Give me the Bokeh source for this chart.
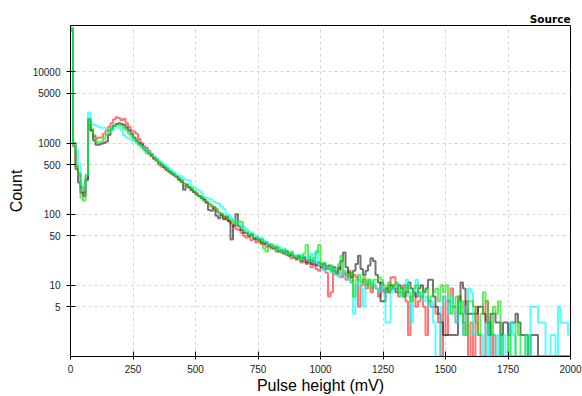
import numpy as np
from bokeh.plotting import figure
from bokeh.models import FixedTicker, NumeralTickFormatter, Title, Range1d
from bokeh.embed import file_html
from bokeh.resources import INLINE

# ---------------- data ----------------
bin_width = 10          # mV per bin
x_ticks = [0, 250, 500, 750, 1000, 1250, 1500, 1750, 2000]
y_ticks = [5, 10, 50, 100, 500, 1000, 5000, 10000]
x_label = "Pulse height (mV)"
y_label = "Count"
legend_title = "Source"

red_counts = [
    38000, 900, 480, 380, 240, 200, 320, 2100, 1500, 1250,
    1150, 1200, 1200, 1350, 1500, 1700, 1900, 2150, 2300, 2250,
    2100, 2200, 1900, 1700, 1500, 1450, 1350, 1150, 1000, 900,
    850, 780, 650, 600, 560, 500, 470, 450, 440, 400,
    390, 370, 335, 320, 300, 270, 265, 240, 228, 205,
    198, 180, 176, 158, 148, 142, 128, 122, 112, 104,
    98, 92, 84, 80, 74, 68, 62, 60, 55, 50,
    47, 48, 43, 45, 40, 42, 38, 41, 35, 36,
    33, 35, 30, 31, 29, 32, 27, 28, 24, 26,
    23, 25, 21, 24, 20, 22, 18, 20, 17, 16,
    19, 17, 15, 7, 8, 16, 14, 18, 13, 15,
    12, 16, 11, 14, 13, 5, 10, 12, 9, 11,
    8, 10, 9, 7, 11, 8, 9, 10, 13, 13,
    9, 7, 8, 10, 6, 2, 7, 8, 5, 6,
    7, 5, 2, 6, 5, 5, 4, 3, 0, 7,
    2, 6, 9, 5, 3, 7, 4, 2, 6, 0,
    3, 0, 5, 2, 0, 0, 6, 3, 0, 2,
    0, 0, 2, 0, 0, 0, 0, 0, 0, 0,
    0, 0, 0, 0, 0, 0, 0, 0, 0, 0,
    0, 0, 0, 0, 0, 0, 0, 0, 0, 0,
]

black_counts = [
    40000, 1000, 430, 280, 200, 180, 300, 2200, 1500, 1100,
    950, 950, 980, 1000, 1050, 1300, 1550, 1750, 1850, 1900,
    1850, 1800, 1650, 1500, 1350, 1200, 1100, 1000, 950, 850,
    780, 720, 680, 620, 590, 540, 500, 460, 420, 400,
    370, 355, 340, 305, 285, 220, 255, 240, 218, 205,
    190, 180, 168, 162, 145, 115, 112, 125, 95, 88,
    98, 85, 92, 80, 44, 70, 100, 68, 60, 55,
    54, 50, 52, 46, 44, 45, 40, 38, 40, 36,
    35, 33, 34, 30, 31, 28, 30, 26, 27, 25,
    24, 26, 22, 25, 21, 23, 20, 22, 19, 21,
    18, 20, 17, 19, 16, 18, 15, 17, 22, 29,
    18, 15, 13, 16, 20, 26, 17, 14, 16, 19,
    24, 22, 14, 11, 6, 6, 9, 8, 10, 9,
    8, 10, 9, 7, 8, 11, 9, 8, 7, 9,
    10, 8, 9, 12, 12, 7, 5, 4, 3, 2,
    2, 2, 2, 2, 2, 6, 11, 9, 4, 4,
    4, 4, 4, 5, 5, 4, 3, 2, 4, 4,
    3, 3, 2, 3, 3, 2, 3, 3, 4, 3,
    2, 2, 2, 1, 2, 2, 2, 0, 0, 0,
    0, 0, 0, 0, 0, 0, 0, 0, 0, 0,
]

green_counts = [
    42000, 1000, 470, 360, 170, 155, 350, 2100, 1600, 1300,
    1050, 1000, 1050, 1150, 1300, 1500, 1650, 1750, 1800, 1800,
    1750, 1600, 1500, 1350, 1250, 1150, 1050, 950, 870, 800,
    720, 700, 700, 640, 580, 530, 500, 480, 440, 400,
    375, 350, 330, 320, 290, 270, 262, 238, 230, 212,
    190, 182, 170, 155, 152, 138, 135, 124, 118, 106,
    102, 95, 94, 86, 82, 77, 70, 80, 78, 60,
    56, 52, 53, 47, 48, 42, 44, 33, 30, 37,
    38, 35, 31, 34, 30, 28, 31, 27, 29, 25,
    26, 24, 22, 28, 37, 25, 22, 24, 29, 37,
    20, 21, 18, 17, 19, 16, 15, 20, 26, 16,
    14, 13, 15, 7, 12, 14, 11, 13, 10, 12,
    9, 12, 12, 13, 12, 10, 8, 11, 9, 10,
    11, 8, 9, 7, 10, 8, 6, 9, 10, 8,
    7, 8, 9, 6, 7, 8, 9, 6, 10, 8,
    10, 6, 4, 5, 7, 4, 6, 3, 2, 6,
    6, 5, 3, 2, 4, 8, 6, 3, 2, 5,
    4, 6, 0, 0, 0, 2, 0, 0, 3, 2,
    0, 0, 2, 0, 0, 0, 0, 0, 0, 0,
    0, 0, 0, 0, 0, 0, 0, 0, 0, 0,
]

cyan_counts = [
    40000, 1000, 800, 520, 260, 220, 360, 2700, 1900, 1800,
    1750, 1700, 1650, 1650, 1600, 1550, 1500, 1600, 1700, 1650,
    1500, 1300, 1200, 1150, 1100, 1050, 1000, 950, 900, 850,
    800, 760, 700, 650, 610, 560, 540, 500, 470, 440,
    420, 390, 360, 350, 340, 310, 300, 300, 250, 240,
    225, 215, 200, 175, 170, 165, 160, 150, 145, 140,
    128, 118, 100, 98, 88, 84, 80, 74, 68, 66,
    62, 57, 55, 52, 48, 46, 47, 42, 40, 38,
    36, 34, 37, 31, 30, 33, 28, 29, 30, 26,
    25, 27, 23, 26, 24, 22, 28, 21, 31, 20,
    19, 16, 17, 18, 15, 17, 14, 13, 16, 15,
    13, 12, 11, 4, 10, 12, 9, 5, 11, 12,
    10, 11, 9, 8, 10, 9, 3, 3, 8, 9,
    10, 8, 7, 9, 12, 7, 3, 8, 12, 7,
    8, 6, 7, 5, 6, 3, 0, 0, 5, 7,
    6, 4, 7, 5, 3, 6, 4, 2, 5, 9,
    8, 2, 2, 2, 2, 0, 3, 0, 2, 2,
    0, 2, 0, 2, 0, 0, 3, 2, 0, 0,
    0, 0, 2, 0, 5, 5, 5, 3, 3, 3,
    0, 0, 2, 2, 0, 5, 3, 3, 3, 2,
]

series = [
    (red_counts, "#ff2a2a"),
    (black_counts, "#2a2a2a"),
    (cyan_counts, "#00ffff"),
    (green_counts, "#10e010"),
]

# ---------------- figure ----------------
p = figure(
    width=582, height=396,
    x_range=Range1d(0, 2000), y_range=Range1d(1, 45000),
    y_axis_type="log",
    output_backend="svg", toolbar_location=None,
    min_border_left=70, min_border_right=12,
    min_border_top=25, min_border_bottom=39,
)
p.background_fill_color = "white"
p.border_fill_color = "white"
p.outline_line_color = "black"
p.outline_line_width = 1

for counts, color in series:
    c = np.asarray(counts, dtype=float)
    c = np.where(c <= 0, 1.0, c)
    edges = np.arange(len(c) + 1) * bin_width
    yv = np.append(c, c[-1])
    p.step(edges, yv, mode="after", line_color=color, line_width=2, line_alpha=0.65)

p.xaxis.ticker = FixedTicker(ticks=x_ticks)
p.yaxis.ticker = FixedTicker(ticks=y_ticks)
p.yaxis.formatter = NumeralTickFormatter(format="0")

for ax in (p.xaxis, p.yaxis):
    ax.axis_line_color = "black"
    ax.major_tick_line_color = "black"
    ax.minor_tick_line_color = None
    ax.major_label_text_font = "Liberation Sans"
    ax.major_label_text_font_size = "10px"
    ax.major_label_text_color = "#222222"
    ax.axis_label_text_font = "Liberation Sans"
    ax.axis_label_text_font_size = "16px"
    ax.axis_label_text_font_style = "normal"
    ax.axis_label_text_color = "black"

p.xaxis.major_tick_in = 5
p.xaxis.major_tick_out = 3
p.xaxis.major_label_standoff = 5
p.xaxis.axis_label_standoff = 1
p.yaxis.major_tick_in = 5
p.yaxis.major_tick_out = 4
p.yaxis.major_label_standoff = 6
p.yaxis.axis_label_standoff = 5

p.xaxis.axis_label = x_label
p.yaxis.axis_label = y_label

for g in (p.xgrid, p.ygrid):
    g.grid_line_color = "#d4d4d4"
    g.grid_line_dash = "3 3"
    g.grid_line_width = 1

p.add_layout(Title(text=legend_title, align="right", standoff=1,
                   text_font="DejaVu Sans", text_font_style="bold",
                   text_font_size="10.5px", text_color="black"), "above")

open("out.html", "w").write(file_html(p, INLINE))
